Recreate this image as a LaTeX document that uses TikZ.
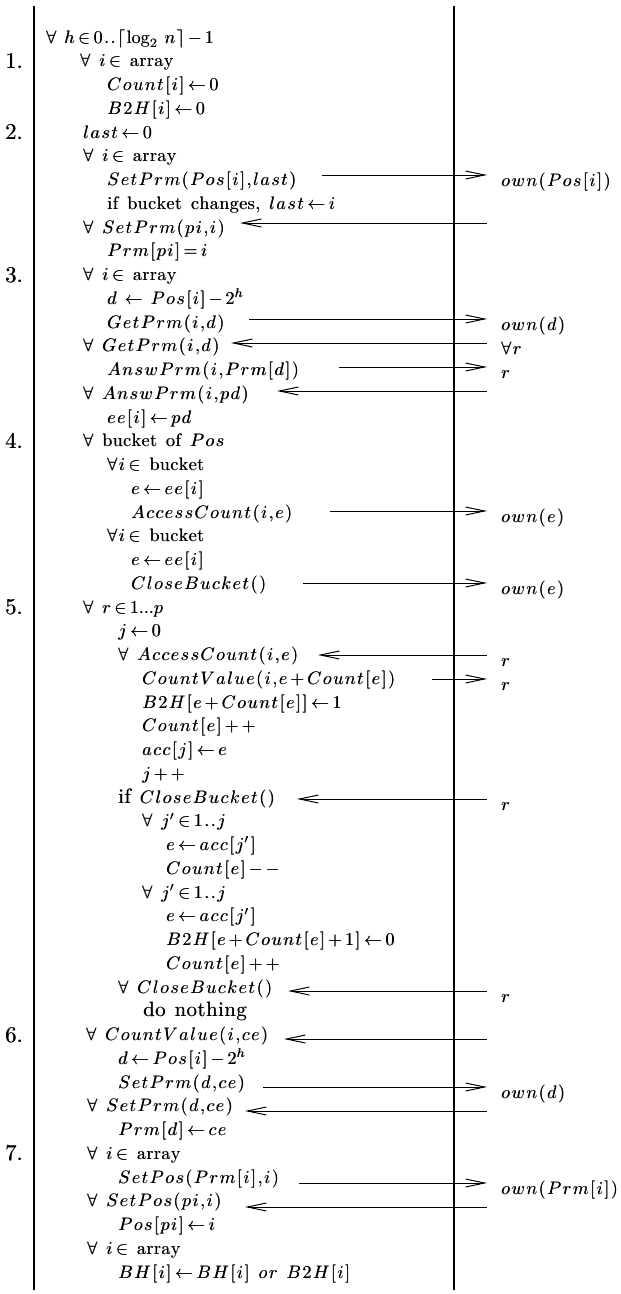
\RequirePackage{fix-cm}
\documentclass[tikz,border=0pt]{standalone}
\usepackage{graphicx}
\usetikzlibrary{arrows.meta}

% letter-spaced math and text (wide typewriter-like spacing of the listing)
\newmuskip\spgap \spgap=1.5mu
\newdimen\tgap \tgap=0.25pt
\makeatletter
\def\spc@stop{}
\def\spc@stopmac{\spc@stop}
\def\mspc#1{\mspc@a#1\spc@stop}
\def\mspc@a#1{#1\mspc@b}
\def\mspc@b#1{\def\spc@tmp{#1}\ifx\spc@tmp\spc@stopmac\else\mskip\spgap\relax#1\expandafter\mspc@b\fi}
\def\tspc#1{\tspc@a#1\spc@stop}
\def\tspc@a#1{#1\tspc@b}
\def\tspc@b#1{\def\spc@tmp{#1}\ifx\spc@tmp\spc@stopmac\else\kern\tgap#1\expandafter\tspc@b\fi}
\makeatother

% heavier strokes: the text is set twice, a hair apart
\newcommand\fb[1]{\makebox[0pt][l]{#1}\kern0.2pt#1}
% word space of the listing
\newcommand\ws{\hskip5pt\relax}
% 10pt design, enlarged
\newcommand\enl[1]{\scalebox{1.8}{\fb{#1}}}

\newcommand\fa{$\mspc{\forall{\ }i\in}$\ws\tspc{array}}
\newcommand\bigword[1]{\scalebox{1.15}{\tspc{#1}}}

% one listing line: number k, left x, content
\newcommand\Ln[3]{\node[ln] (l#1) at (#2,{43+(#1-1)*23.75}) {\enl{#3}};}
% step number beside line k
\newcommand\Num[2]{\node[ln] (n#1) at (5,{44.5+(#2-1)*23.75}) {\scalebox{2.25}{\fb{#1.}}};}
% message to the other side (right) and back (left)
\newcommand\Rt[2]{\coordinate (s#1) at (#2,{175+(#1-7)*24});
  \coordinate (e#1) at (487,{175+(#1-7)*24});
  \draw[msg] (s#1) -- (e#1);}
\newcommand\Lt[2]{\coordinate (s#1) at (#2,{175+(#1-7)*24});
  \coordinate (e#1) at (487,{175+(#1-7)*24});
  \draw[msg] (e#1) -- (s#1);}
% destination of a message
\newcommand\Lb[2]{\node[ln] (o#1) at (501,{186.5+(#1-7)*24}) {\enl{#2}};}

\begin{document}
\begin{tikzpicture}[x=1pt,y=-1pt,
  ln/.style={anchor=base west,inner sep=0pt,
    font={\fontsize{10}{12}\selectfont\thickmuskip=2mu\medmuskip=1.5mu\thinmuskip=0mu}},
  bar/.style={line width=1.5pt},
  msg/.style={line width=1pt,-{Straight Barb[length=19pt,width=8pt,line width=1pt]}}]
\useasboundingbox[fill=white] (0,0) rectangle (621,1294);

% the two processor time lines
\coordinate (ltop) at (34,6);  \coordinate (lbot) at (34,1290);
\coordinate (rtop) at (454,6); \coordinate (rbot) at (454,1290);
\draw[bar] (ltop) -- (lbot);
\draw[bar] (rtop) -- (rbot);

% step numbers
\Num{1}{2} \Num{2}{5} \Num{3}{11} \Num{4}{18} \Num{5}{25} \Num{6}{43} \Num{7}{48}

% listing
\Ln{1}{46}{$\mspc{\forall{\mkern5mu}h\in0..\lceil{\log_2}{\mkern5mu n}\rceil-1}$}
\Ln{2}{80}{\fa}
\Ln{3}{107}{$\mspc{Count[i]\leftarrow0}$}
\Ln{4}{107}{$\mspc{B2H[i]\leftarrow0}$}
\Ln{5}{83}{$\mspc{last\leftarrow0}$}
\Ln{6}{83}{\fa}
\Ln{7}{107}{$\mspc{SetPrm(Pos[i],last)}$}
\Ln{8}{107}{\tspc{if}\ws\tspc{bucket}\ws\tspc{changes,}\ws$\mspc{last\leftarrow i}$}
\Ln{9}{83}{$\mspc{\forall{\ }SetPrm(pi,i)}$}
\Ln{10}{107}{$\mspc{Prm[pi]=i}$}
\Ln{11}{83}{\fa}
\Ln{12}{107}{$\mspc{d{\mkern3mu}\leftarrow{\mkern3mu}Pos[i]-{2^h}}$}
\Ln{13}{107}{$\mspc{GetPrm(i,d)}$}
\Ln{14}{83}{$\mspc{\forall{\ }GetPrm(i,d)}$}
\Ln{15}{107}{$\mspc{AnswPrm(i,Prm[d])}$}
\Ln{16}{83}{$\mspc{\forall{\ }AnswPrm(i,pd)}$}
\Ln{17}{107}{$\mspc{ee[i]\leftarrow pd}$}
\Ln{18}{83}{$\forall$\ws\tspc{bucket}\ws\tspc{of}\ws$\mspc{Pos}$}
\Ln{19}{107}{$\mspc{\forall i\in}$\ws\tspc{bucket}}
\Ln{20}{131}{$\mspc{e\leftarrow ee[i]}$}
\Ln{21}{131}{$\mspc{AccessCount(i,e)}$}
\Ln{22}{107}{$\mspc{\forall i\in}$\ws\tspc{bucket}}
\Ln{23}{131}{$\mspc{e\leftarrow ee[i]}$}
\Ln{24}{131}{$\mspc{CloseBucket()}$}
\Ln{25}{83}{$\mspc{\forall{\ }r\in{1...p}}$}
\Ln{26}{118}{$\mspc{j\leftarrow0}$}
\Ln{27}{118}{$\mspc{\forall{\ }AccessCount(i,e)}$}
\Ln{28}{142}{$\mspc{CountValue(i,e+Count[e])}$}
\Ln{29}{142}{$\mspc{B2H[e+Count[e]]\leftarrow1}$}
\Ln{30}{142}{$\mspc{Count[e]++}$}
\Ln{31}{142}{$\mspc{acc[j]\leftarrow e}$}
\Ln{32}{142}{$\mspc{j++}$}
\Ln{33}{118}{\bigword{if}\ws$\mspc{CloseBucket()}$}
\Ln{34}{142}{$\mspc{\forall{\ }{j'}\in1..j}$}
\Ln{35}{166}{$\mspc{e\leftarrow acc[{j'}]}$}
\Ln{36}{166}{$\mspc{Count[e]--}$}
\Ln{37}{142}{$\mspc{\forall{\ }{j'}\in1..j}$}
\Ln{38}{166}{$\mspc{e\leftarrow acc[{j'}]}$}
\Ln{39}{166}{$\mspc{B2H[e+Count[e]+1]\leftarrow0}$}
\Ln{40}{166}{$\mspc{Count[e]++}$}
\Ln{41}{118}{$\mspc{\forall{\ }CloseBucket()}$}
\Ln{42}{143}{\bigword{do}\ws\bigword{nothing}}
\Ln{43}{86}{$\mspc{\forall{\ }CountValue(i,ce)}$}
\Ln{44}{118}{$\mspc{d\leftarrow Pos[i]-{2^h}}$}
\Ln{45}{118}{$\mspc{SetPrm(d,ce)}$}
\Ln{46}{87}{$\mspc{\forall{\ }SetPrm(d,ce)}$}
\Ln{47}{118}{$\mspc{Prm[d]\leftarrow ce}$}
\Ln{48}{87}{\fa}
\Ln{49}{118}{$\mspc{SetPos(Prm[i],i)}$}
\Ln{50}{87}{$\mspc{\forall{\ }SetPos(pi,i)}$}
\Ln{51}{118}{$\mspc{Pos[pi]\leftarrow i}$}
\Ln{52}{87}{\fa}
\Ln{53}{118}{$\mspc{BH[i]\leftarrow BH[i]{\ }or{\ }B2H[i]}$}

% messages
\Rt{7}{322}  \Lt{9}{240}
\Rt{13}{249} \Lt{14}{231} \Rt{15}{339} \Lt{16}{277}
\Rt{21}{330} \Rt{24}{303}
\Lt{27}{318} \Rt{28}{432} \Lt{33}{297} \Lt{41}{288}
\Lt{43}{284} \Rt{45}{263} \Lt{46}{245}
\Rt{49}{299} \Lt{50}{245}

% where the messages go
\Lb{7}{$\mspc{own(Pos[i])}$}
\Lb{13}{$\mspc{own(d)}$}
\Lb{14}{$\mspc{\forall r}$}
\Lb{15}{$r$}
\Lb{21}{$\mspc{own(e)}$}
\Lb{24}{$\mspc{own(e)}$}
\Lb{27}{$r$}
\Lb{28}{$r$}
\Lb{33}{$r$}
\Lb{41}{$r$}
\Lb{45}{$\mspc{own(d)}$}
\Lb{49}{$\mspc{own(Prm[i])}$}
\end{tikzpicture}
\end{document}
